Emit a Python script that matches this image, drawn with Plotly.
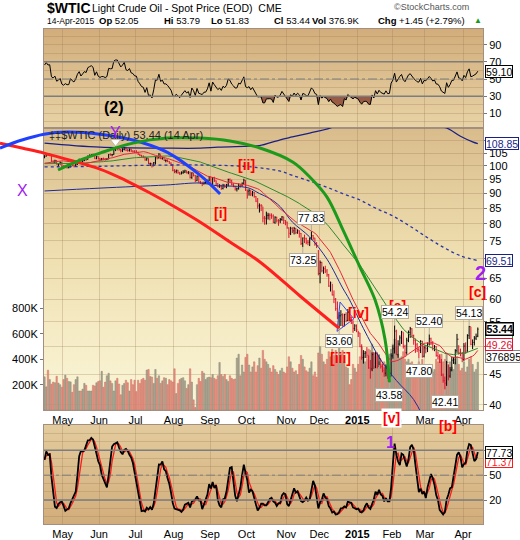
import base64
import numpy as np
import pandas as pd
import plotly.graph_objects as go

W, H = 520, 540
PX_L, PX_R = 44, 483
RSI_T, RSI_B = 29, 128
MAIN_T, MAIN_B = 128, 410
STO_T, STO_B = 425, 524
FONT = "Liberation Sans, Arial, sans-serif"

# ---------------- data ----------------
holidays = ['2014-04-18', '2014-05-26', '2014-07-04', '2014-09-01', '2014-11-27',
            '2014-12-25', '2015-01-01', '2015-01-19', '2015-02-16', '2015-04-03']

close_px = [
    103.75, 104.76, 104.30, 104.38, 101.75, 101.44, 101.94, 100.60, 100.84, 101.28, 99.74,
    99.42, 99.76, 99.48, 99.50, 100.77, 100.26, 99.99, 100.59, 101.70, 102.37, 101.50, 102.02, 102.61, 102.44, 103.77, 104.07, 104.35, 104.11, 102.72, 103.58, 102.71,
    102.47, 102.66, 102.64, 102.48, 102.66, 104.41, 104.35, 104.40, 106.53, 106.91, 106.90, 106.36, 105.97, 106.43, 107.26, 106.17, 106.03, 106.50, 105.84, 105.74, 105.37,
    105.34, 104.48, 104.06, 103.53, 103.40, 102.29, 102.93, 100.83, 100.91, 99.96, 101.20, 103.19, 103.13, 104.59, 102.81, 103.12, 102.07, 102.09, 101.67, 100.97, 100.27, 98.23,
    97.86, 98.29, 97.38, 96.92, 97.34, 97.65, 98.08, 97.37, 97.59, 95.58, 97.35, 96.41, 94.48, 96.07, 93.96, 93.65, 93.35, 93.86, 93.88, 94.55, 95.96,
    92.88, 95.54, 94.45, 93.29, 92.29, 92.75, 91.67, 92.83, 92.27, 92.92, 94.88, 94.42, 93.07, 92.41, 91.52, 91.56, 92.80, 92.53, 93.54, 94.57, 91.16,
    90.73, 91.01, 89.74, 90.34, 88.85, 87.31, 85.77, 85.82, 85.74, 81.84, 81.78, 82.70, 82.75, 82.71, 82.49, 80.52, 82.09, 81.01, 81.00, 81.42, 82.20, 81.12, 80.54,
    78.78, 77.19, 78.68, 77.91, 78.65, 77.40, 77.94, 77.18, 74.21, 75.82, 75.64, 74.61, 74.58, 75.58, 76.51, 75.78, 74.09, 73.69, 66.15,
    69.00, 66.88, 67.38, 66.81, 65.84, 63.05, 63.82, 60.94, 59.95, 57.81, 55.93, 56.26, 56.47, 54.11, 56.52, 55.26, 57.12, 55.84, 54.73, 53.61, 54.12, 53.27,
    52.69, 50.04, 47.93, 48.65, 48.79, 48.36, 46.07, 45.89, 48.48, 46.25, 48.69, 46.39, 47.78, 46.31, 45.59, 45.15, 46.23, 44.45, 44.53, 48.24,
    49.57, 53.05, 48.45, 50.48, 51.69, 52.86, 50.02, 48.84, 51.21, 52.78, 53.53, 52.14, 51.16, 50.34, 49.45, 49.28, 50.99, 48.17, 49.76,
    49.59, 50.52, 51.53, 50.76, 49.61, 50.00, 48.29, 48.17, 47.05, 44.84, 43.88, 43.46, 47.05, 44.66, 45.72, 47.45, 47.51, 49.21, 51.43, 48.87, 48.68, 47.60,
    50.09, 49.14, 52.14, 53.98, 50.42, 50.79, 51.64, 51.99, 53.44]

high_px = [
    104.13, 104.99, 104.97, 104.86, 104.40, 102.15, 102.36, 102.22, 101.05, 101.70, 101.50,
    100.20, 100.21, 100.10, 100.20, 101.04, 101.06, 100.57, 100.96, 101.97, 102.78, 102.40, 102.33, 102.90, 102.85, 104.05, 104.45, 104.50, 104.77, 104.20, 103.80, 103.72,
    103.11, 103.06, 103.20, 103.02, 103.00, 104.56, 104.87, 104.59, 106.72, 107.68, 107.39, 107.20, 106.66, 106.98, 107.50, 107.36, 106.70, 106.86, 106.77, 106.10, 106.14,
    106.18, 105.53, 104.70, 104.32, 104.09, 103.65, 103.28, 102.89, 101.23, 100.97, 101.47, 103.69, 103.80, 104.98, 104.45, 103.49, 103.20, 102.50, 102.50, 101.81, 101.38, 100.50,
    98.70, 98.55, 98.46, 97.70, 97.88, 98.32, 98.50, 98.20, 97.99, 97.75, 97.54, 97.26, 96.50, 96.36, 96.14, 94.40, 94.07, 94.10, 94.36, 94.80, 96.11,
    95.82, 95.80, 95.87, 94.58, 93.60, 93.17, 92.98, 93.30, 93.20, 93.30, 95.19, 95.30, 94.82, 93.58, 92.50, 92.00, 93.48, 93.20, 93.79, 95.15, 94.64,
    91.30, 91.46, 91.05, 90.81, 90.50, 89.05, 88.38, 86.57, 86.35, 85.50, 82.50, 83.88, 83.49, 83.35, 83.31, 82.98, 82.40, 82.25, 81.50, 81.85, 82.48, 82.25, 81.20,
    80.73, 78.98, 79.14, 79.00, 79.11, 78.80, 78.39, 78.08, 77.29, 75.96, 76.80, 75.91, 75.25, 75.97, 77.83, 76.67, 75.90, 74.65, 72.40,
    69.55, 69.22, 67.96, 68.16, 67.31, 66.06, 64.15, 63.57, 62.00, 60.23, 59.43, 57.07, 57.49, 56.78, 56.70, 57.02, 57.74, 57.46, 56.07, 55.28, 54.48, 54.43,
    53.08, 52.70, 50.44, 49.31, 49.16, 49.90, 48.26, 47.49, 48.90, 48.97, 49.03, 48.89, 48.50, 47.70, 46.86, 46.18, 46.64, 46.45, 45.60, 48.72,
    50.25, 54.24, 53.33, 51.23, 52.19, 53.10, 52.81, 50.34, 51.71, 53.17, 53.91, 53.65, 52.34, 51.57, 50.70, 49.88, 51.24, 51.12, 50.19,
    50.25, 50.80, 52.40, 51.73, 51.05, 50.28, 50.07, 49.09, 48.55, 47.67, 45.08, 44.57, 47.32, 46.63, 46.22, 48.10, 48.06, 49.50, 52.48, 50.26, 49.60, 48.98,
    50.67, 50.81, 52.42, 54.13, 53.93, 51.38, 52.05, 52.55, 53.79]

low_px = [
    102.93, 103.60, 103.88, 103.80, 101.50, 101.20, 101.05, 100.50, 99.75, 100.40, 99.50,
    99.10, 99.20, 98.92, 99.00, 99.46, 99.80, 99.40, 99.54, 100.35, 101.50, 101.06, 101.30, 101.80, 101.90, 102.40, 103.40, 103.78, 103.80, 102.65, 102.60, 102.41,
    102.05, 102.09, 102.10, 101.95, 102.18, 102.58, 103.95, 103.70, 104.30, 105.80, 106.10, 106.00, 105.30, 105.40, 106.10, 105.80, 105.55, 105.60, 105.47, 105.20, 105.06,
    104.90, 104.22, 103.72, 103.37, 102.98, 101.97, 101.98, 100.63, 99.92, 99.34, 99.88, 100.50, 102.50, 102.80, 102.56, 102.40, 101.90, 101.35, 101.41, 100.80, 99.94, 97.94,
    97.20, 97.15, 97.01, 96.60, 96.80, 97.01, 97.27, 97.10, 96.82, 95.22, 95.13, 96.00, 93.94, 94.29, 93.67, 93.26, 92.50, 93.05, 93.20, 93.40, 94.28,
    92.50, 92.75, 94.00, 92.50, 92.07, 91.90, 91.18, 91.35, 91.90, 91.76, 92.47, 93.97, 92.78, 92.11, 90.94, 90.62, 91.30, 92.01, 92.40, 93.10, 90.81,
    88.18, 89.18, 89.05, 88.95, 88.50, 86.99, 84.85, 83.59, 84.07, 80.50, 79.78, 79.84, 81.38, 81.16, 81.60, 80.24, 80.06, 80.42, 79.44, 80.24, 80.98, 80.00, 79.60,
    78.60, 75.84, 76.67, 77.26, 76.86, 76.95, 77.05, 75.92, 73.80, 73.25, 74.35, 74.03, 73.74, 73.50, 75.30, 75.28, 73.60, 72.94, 65.70,
    63.72, 66.46, 66.08, 66.26, 65.34, 62.85, 61.75, 60.80, 59.06, 57.34, 55.52, 53.60, 54.10, 53.95, 54.05, 54.89, 55.10, 55.20, 54.51, 52.70, 53.07, 52.83,
    51.86, 49.87, 47.55, 46.83, 47.84, 47.75, 45.92, 44.20, 45.49, 45.87, 46.02, 45.98, 46.55, 45.96, 45.28, 44.53, 44.60, 44.18, 43.58, 44.62,
    47.73, 48.68, 48.42, 47.88, 50.15, 50.50, 49.61, 48.12, 48.45, 50.84, 51.70, 51.73, 50.35, 48.81, 48.95, 47.80, 48.76, 47.90, 47.96,
    48.72, 48.95, 50.20, 50.30, 49.27, 49.12, 48.10, 47.58, 46.95, 44.65, 43.52, 42.41, 43.00, 43.92, 44.35, 45.46, 46.78, 46.70, 48.80, 48.48, 48.15, 47.10,
    47.33, 48.64, 49.00, 51.46, 50.24, 49.51, 50.20, 51.26, 51.83]

last_open = 52.05

volume_k = [
    262, 183, 314, 240, 204, 220, 215, 266, 213, 200, 180,
    240, 275, 250, 225, 222, 140, 200, 240, 262, 150, 150, 165, 210, 195, 150, 150, 150, 195, 190, 215, 225,
    230, 305, 180, 220, 270, 290, 230, 210, 150, 230, 250, 205, 120, 195, 210, 235, 215, 150, 240, 200, 235,
    145, 235, 210, 240, 250, 235, 315, 320, 265, 260, 210, 320, 250, 270, 210, 230, 255, 250, 200, 240, 230, 220,
    325, 130, 210, 240, 250, 255, 230, 170, 200, 325, 220, 80, 20, 200, 250, 225, 305, 290, 240, 255, 260,
    255, 280, 250, 240, 270, 375, 280, 265, 280, 240, 225, 270, 250, 240, 245, 410, 440, 270, 355, 300, 415,
    440, 355, 300, 340, 380, 300, 350, 410, 330, 470, 400, 380, 360, 330, 300, 350, 320, 300, 280, 310, 330, 300, 290,
    340, 420, 380, 330, 300, 310, 280, 360, 430, 400, 340, 310, 300, 330, 380, 270, 300, 260, 450,
    500, 440, 380, 360, 400, 460, 420, 480, 430, 470, 420, 520, 440, 470, 380, 340, 330, 200, 240, 360, 330, 300,
    360, 420, 500, 430, 380, 400, 480, 470, 520, 450, 420, 440, 380, 360, 350, 380, 360, 420, 440, 480,
    520, 560, 500, 440, 410, 420, 460, 400, 380, 400, 370, 380, 350, 330, 340, 380, 360, 400, 350,
    320, 330, 360, 310, 300, 320, 400, 380, 420, 440, 380, 400, 450, 360, 380, 340, 320, 380, 420, 360, 310, 330,
    380, 300, 340, 400, 420, 360, 300, 320, 376.895]

# moving-average values before the window fills
ma20_head = [101.0, 101.1, 101.2, 101.4, 101.5, 101.6, 101.7, 101.8, 101.8, 101.9,
             101.9, 101.9, 101.8, 101.7, 101.6, 101.5, 101.4, 101.35, 101.3]
ma50_head = [100.8, 100.8, 100.9, 100.9, 101.0, 101.0, 101.0, 101.0, 101.0, 101.0, 101.0,
             101.0, 101.0, 100.9, 100.9, 100.9, 100.9, 100.9, 100.9, 101.0, 101.0,
             101.0, 101.0, 101.1, 101.1, 101.2, 101.3, 101.3, 101.4, 101.4, 101.5, 101.5,
             101.5, 101.6, 101.6, 101.7, 101.7, 101.8, 101.9, 101.9, 102.0, 102.1,
             102.2, 102.3, 102.4, 102.5, 102.6, 102.7, 102.8]
rsi_seed_gain, rsi_seed_loss = 0.55, 0.28

# Bollinger(200) readings: (bar index, value)
bb_mid_idx = [0, 30, 60, 90, 115, 128, 136, 143, 153, 163, 172, 182, 191, 201, 211, 221, 230, 240, 250]
bb_mid_val = [99.6, 99.8, 100.2, 100.3, 99.8, 98.9, 98.0, 96.4, 94.3, 92.1, 89.9, 87.7, 85.0, 82.5, 79.3, 75.9, 73.2, 70.8, 69.51]
bb_up_idx = [0, 32, 70, 90, 100, 118, 124, 136, 143, 153, 165, 180, 195, 212, 225, 232, 240, 247, 250]
bb_up_val = [109.1, 107.4, 107.0, 107.0, 107.4, 107.8, 108.0, 110.5, 111.7, 113.4, 115.6, 121.0, 122.0, 118.5, 116.5, 115.6, 112.0, 109.6, 108.85]
bb_lo_idx = [0, 32, 70, 90, 100, 109, 118, 124, 130, 136, 143, 153, 163, 172, 176, 184, 194, 203, 213, 222, 235, 250]
bb_lo_val = [90.8, 91.8, 92.9, 93.6, 92.6, 92.5, 91.8, 89.9, 88.2, 85.5, 80.6, 76.1, 69.9, 62.6, 59.8, 53.6, 47.5, 43.9, 40.8, 36.5, 32.5, 30.2]

# hand-drawn arcs (bar index, price)
red_arc_idx = [-25.7, -13.0, -0.3, 14.7, 32.0, 46.4, 60.9, 75.3, 89.7, 107.0, 124.3, 147.4, 170]
red_arc_val = [109.1, 107.05, 105.0, 102.2, 98.75, 94.69, 90.08, 85.37, 80.6, 74.65, 69.16, 60.69, 53.6]
blue_arc_idx = [-25.7, -13.0, -0.3, 13.0, 32.0, 51.0, 70.6, 89.7, 101.3]
blue_arc_val = [107.05, 110.4, 112.9, 113.8, 112.9, 110.4, 105.4, 96.5, 89.75]
green_arc_idx = [7.8, 20.5, 32.0, 51.0, 70.7, 89.7, 107.0, 124.3, 143.4, 153.2, 163.0, 172.2, 182.0, 190.7, 196.5, 199]
green_arc_val = [98.4, 102.2, 105.0, 109.1, 111.2, 111.2, 110.0, 107.05, 101.4, 95.7, 88.7, 78.2, 67.8, 59.8, 51.3, 43.6]
tri_idx = [170.5, 178.5, 168.8]
tri_val = [59.3, 55.6, 53.0]

swing_idx = [154, 149, 170, 202, 222, 216, 199, 231, 245]
swing_val = [77.83, 73.25, 53.60, 54.24, 52.40, 47.80, 43.58, 42.41, 54.13]
swing_side = ['hi', 'lo', 'lo', 'hi', 'hi', 'lo', 'lo', 'lo', 'hi']

price_ticks = [40, 45, 50, 55, 60, 65, 70, 75, 80, 85, 90, 95, 100, 105, 110]
vol_ticks = [200000, 400000, 600000, 800000]
vol_tick_text = ['200K', '400K', '600K', '800K']

# ---------------- derived ----------------
dates = pd.bdate_range('2014-04-15', '2015-04-14')
dates = dates[~dates.isin(pd.to_datetime(holidays))]
n = len(dates)
idx = np.arange(n)
close = np.array(close_px)
high = np.array(high_px)
low = np.array(low_px)
open_ = np.r_[close[0], close[:-1]]
open_[-1] = last_open
volume = np.array(volume_k) * 1000.0

up = np.r_[True, close[1:] >= close[:-1]]

# RSI(14), Wilder
ag, al = rsi_seed_gain, rsi_seed_loss
rsi = [100 - 100 / (1 + ag / al)]
for d in np.diff(close):
    ag = (ag * 13 + max(d, 0)) / 14
    al = (al * 13 + max(-d, 0)) / 14
    rsi.append(100 - 100 / (1 + ag / al))
rsi = np.array(rsi)

# Slow stochastic (14,3)
sc = pd.Series(close)
hh = pd.Series(high).rolling(14, min_periods=1).max()
ll = pd.Series(low).rolling(14, min_periods=1).min()
fastk = 100 * (sc - ll) / (hh - ll)
slowk = fastk.rolling(3, min_periods=1).mean().to_numpy()
slowd = pd.Series(slowk).rolling(3, min_periods=1).mean().to_numpy()

ma20 = sc.rolling(20).mean().to_numpy()
ma20[:19] = ma20_head
ma50 = sc.rolling(50).mean().to_numpy()
ma50[:49] = ma50_head

# month ticks
month_first = []
for i in range(1, n):
    if dates[i].month != dates[i - 1].month:
        month_first.append(i)
tickvals = [i - 0.5 for i in month_first]
ticktext = []
for i in month_first:
    d = dates[i]
    ticktext.append('<b>2015</b>' if (d.month == 1) else d.strftime('%b'))

XR = [-0.3, 253.0]
ppu = (PX_R - PX_L) / (XR[1] - XR[0])
XR_FULL = [XR[0] - PX_L / ppu, XR[1] + (W - PX_R) / ppu]
PR = [np.log10(39.2), np.log10(115.6)]


def dom_x():
    return [PX_L / W, PX_R / W]


def dom_y(t, b):
    return [1 - b / H, 1 - t / H]


def grad(stops):
    st = ''.join(f'<stop offset="{o}" stop-color="{c}"/>' for o, c in stops)
    svg = ('<svg xmlns="http://www.w3.org/2000/svg" width="10" height="100" viewBox="0 0 10 100" '
           'preserveAspectRatio="none"><defs><linearGradient id="g" x1="0" y1="0" x2="0" y2="1">'
           + st + '</linearGradient></defs><rect width="10" height="100" fill="url(#g)"/></svg>')
    return 'data:image/svg+xml;base64,' + base64.b64encode(svg.encode()).decode()


fig = go.Figure()

# ---- RSI panel ----
fig.add_trace(go.Scatter(x=idx, y=[30] * n, mode='lines', line=dict(width=0), xaxis='x', yaxis='y', hoverinfo='skip'))
fig.add_trace(go.Scatter(x=idx, y=np.minimum(rsi, 30), mode='lines', line=dict(width=0), fill='tonexty',
                         fillcolor='#9a5b45', xaxis='x', yaxis='y', hoverinfo='skip'))
fig.add_trace(go.Scatter(x=idx, y=rsi, mode='lines', line=dict(color='black', width=1), xaxis='x', yaxis='y'))

# ---- Main panel: volume (base), price (overlay) ----
vcol = np.where(up, '#a8a38f', '#e39585')
vline = np.where(up, '#8f8a78', '#cf6f60')
fig.add_trace(go.Bar(x=idx, y=volume, marker=dict(color=vcol, line=dict(color=vline, width=0.5)),
                     width=0.8, xaxis='x2', yaxis='y2'))

fig.add_trace(go.Scatter(x=bb_mid_idx, y=bb_mid_val, mode='lines', line=dict(color='#2b35a8', width=1.3, dash='dot', shape='spline'),
                         xaxis='x2', yaxis='y3'))
fig.add_trace(go.Scatter(x=bb_up_idx, y=bb_up_val, mode='lines', line=dict(color='#1a1f86', width=1.3, shape='spline'),
                         xaxis='x2', yaxis='y3'))
fig.add_trace(go.Scatter(x=bb_lo_idx, y=bb_lo_val, mode='lines', line=dict(color='#1f2a9a', width=1, shape='spline'),
                         xaxis='x2', yaxis='y3'))
fig.add_trace(go.Scatter(x=idx, y=ma50, mode='lines', line=dict(color='#2d8a2d', width=1), xaxis='x2', yaxis='y3'))
fig.add_trace(go.Scatter(x=idx, y=ma20, mode='lines', line=dict(color='#e8283c', width=1), xaxis='x2', yaxis='y3'))

fig.add_trace(go.Ohlc(x=idx, open=open_, high=high, low=low, close=close, tickwidth=0.35,
                      increasing=dict(line=dict(color='black', width=1)),
                      decreasing=dict(line=dict(color='#e0102f', width=1)),
                      xaxis='x2', yaxis='y3'))

fig.add_trace(go.Scatter(x=tri_idx + [tri_idx[0]], y=tri_val + [tri_val[0]], mode='lines',
                         line=dict(color='#3344ee', width=1), xaxis='x2', yaxis='y3'))
pk = int(np.argmax(high))
fig.add_trace(go.Scatter(x=[pk], y=[high[pk] * 1.018], mode='markers',
                         marker=dict(symbol='triangle-down', size=9, color='white', line=dict(color='#bdb5a5', width=1)),
                         xaxis='x2', yaxis='y3'))

# ---- Stochastic panel ----
fig.add_trace(go.Scatter(x=idx, y=slowd, mode='lines', line=dict(color='#ff1a1a', width=1.3), xaxis='x3', yaxis='y4'))
fig.add_trace(go.Scatter(x=idx, y=slowk, mode='lines', line=dict(color='black', width=1.8), xaxis='x3', yaxis='y4'))

# ---- Arcs (full width overlay) ----
fig.add_trace(go.Scatter(x=red_arc_idx, y=red_arc_val, mode='lines', line=dict(color='#ff1f1f', width=3, shape='spline'),
                         xaxis='x4', yaxis='y5'))
fig.add_trace(go.Scatter(x=blue_arc_idx, y=blue_arc_val, mode='lines', line=dict(color='#1f40ff', width=3, shape='spline'),
                         xaxis='x4', yaxis='y5'))
fig.add_trace(go.Scatter(x=green_arc_idx, y=green_arc_val, mode='lines', line=dict(color='#1c9a1c', width=3, shape='spline'),
                         xaxis='x4', yaxis='y5'))

# ---------------- layout ----------------
grid_c = 'rgba(150,118,80,0.28)'
border_c = '#a28f80'
tickfont = dict(family=FONT, size=11, color='black')

xcommon = dict(range=XR, domain=dom_x(), tickvals=tickvals, ticktext=ticktext, showgrid=True, gridcolor=grid_c,
               gridwidth=1, zeroline=False, showline=True, mirror=True, linecolor=border_c, ticks='',
               tickfont=tickfont, automargin=False, fixedrange=True)

layout = dict(
    width=W, height=H, template='none', showlegend=False,
    margin=dict(l=0, r=0, t=0, b=0, pad=0),
    paper_bgcolor='white', plot_bgcolor='rgba(0,0,0,0)',
    font=dict(family=FONT, size=11, color='black'),
    xaxis=dict(xcommon, anchor='y', showticklabels=False),
    xaxis2=dict(xcommon, anchor='y2', showticklabels=True, rangeslider=dict(visible=False)),
    xaxis3=dict(xcommon, anchor='y4', showticklabels=True),
    xaxis4=dict(range=XR_FULL, domain=[0, 1], anchor='y5', visible=False, fixedrange=True),
    yaxis=dict(domain=dom_y(RSI_T, RSI_B), range=[-7.1, 108.3], anchor='x', side='right',
               tickvals=[10, 30, 50, 70, 90], showgrid=True, gridcolor=grid_c, zeroline=False,
               minor=dict(tickvals=[0, 20, 40, 60, 80, 100], showgrid=True, gridcolor=grid_c),
               showline=True, mirror=True, linecolor=border_c, ticks='outside', ticklen=3, tickcolor='#777',
               tickfont=tickfont, automargin=False, fixedrange=True),
    yaxis2=dict(domain=dom_y(MAIN_T, MAIN_B), range=[0, 2.225e6], anchor='x2', side='left',
                tickvals=vol_ticks, ticktext=vol_tick_text, showgrid=False, zeroline=False,
                showline=True, mirror=True, linecolor=border_c, ticks='outside', ticklen=3, tickcolor='#777',
                tickfont=tickfont, automargin=False, fixedrange=True),
    yaxis3=dict(overlaying='y2', anchor='x2', side='right', type='log', range=PR,
                tickvals=price_ticks, ticktext=[str(v) for v in price_ticks], showgrid=True, gridcolor=grid_c,
                zeroline=False, showline=False, ticks='outside', ticklen=3, tickcolor='#777',
                tickfont=tickfont, automargin=False, fixedrange=True),
    yaxis4=dict(domain=dom_y(STO_T, STO_B), range=[-8.8, 110.4], anchor='x3', side='right',
                tickvals=[20, 50, 80], showgrid=True, gridcolor=grid_c, zeroline=False,
                minor=dict(tickvals=[0, 10, 30, 40, 60, 70, 90, 100], showgrid=True, gridcolor=grid_c),
                showline=True, mirror=True, linecolor=border_c, ticks='outside', ticklen=3, tickcolor='#777',
                tickfont=tickfont, automargin=False, fixedrange=True),
    yaxis5=dict(domain=dom_y(MAIN_T, MAIN_B), type='log', range=PR, anchor='x4', visible=False, fixedrange=True),
)
fig.update_layout(**layout)

# backgrounds
imgs = []
for (t, b, stops) in [
    (RSI_T, RSI_B, [(0, '#d2ad7b'), (1, '#e8d3a6')]),
    (MAIN_T, MAIN_B, [(0, '#d9bc8c'), (0.45, '#efdfb0'), (1, '#fbf7da')]),
    (STO_T, STO_B, [(0, '#e3cb9d'), (1, '#d2ad7b')]),
]:
    imgs.append(dict(source=grad(stops), xref='paper', yref='paper', x=PX_L / W, y=1 - t / H,
                     sizex=(PX_R - PX_L) / W, sizey=(b - t) / H, xanchor='left', yanchor='top',
                     sizing='stretch', layer='below'))
fig.update_layout(images=imgs)

# reference lines
shapes = []
for yref, lv in [('y', 70), ('y', 30), ('y4', 80), ('y4', 20)]:
    xr = 'x domain' if yref == 'y' else 'x3 domain'
    shapes.append(dict(type='line', xref=xr, yref=yref, x0=0, x1=1, y0=lv, y1=lv, line=dict(color='#7d7d7d', width=1.5)))
for yref in ['y', 'y4']:
    xr = 'x domain' if yref == 'y' else 'x3 domain'
    shapes.append(dict(type='line', xref=xr, yref=yref, x0=0, x1=1, y0=50, y1=50,
                       line=dict(color='#7d7d7d', width=1, dash='dashdot')))
fig.update_layout(shapes=shapes)

ann = []


def ptext(px, py, text, size=11, color='black', anchor='center', bold=False, bg=None, family=FONT):
    d = dict(x=px / W, y=1 - py / H, xref='paper', yref='paper', text=(f'<b>{text}</b>' if bold else text),
             showarrow=False, xanchor=anchor, yanchor='middle', font=dict(size=size, color=color, family=family))
    if bg:
        d['bgcolor'] = bg
    ann.append(d)


# header
ptext(45, 8, '<b>$WTIC</b>', size=14, anchor='left')
ptext(90, 8, 'Light Crude Oil - Spot Price (EOD)  CME', size=10.5, anchor='left')
ptext(392, 7, '©StockCharts.com', size=9, color='#555', anchor='left')
ptext(45, 21, '14-Apr-2015', size=8.5, anchor='left')
ptext(97, 21, '<b>Op</b> 52.05', size=9.5, anchor='left')
ptext(162, 21, '<b>Hi</b> 53.79', size=9.5, anchor='left')
ptext(209, 21, '<b>Lo</b> 51.83', size=9.5, anchor='left')
ptext(272, 21, '<b>Cl</b> 53.44', size=9.5, anchor='left')
ptext(310, 21, '<b>Vol</b> 376.9K', size=9.5, anchor='left')
ptext(376, 21, '<b>Chg</b> +1.45 (+2.79%)', size=9.5, anchor='left')
ptext(472, 21, '▲', size=8, color='#1a9a1a', anchor='left')

# legend text
ptext(47, 135, '‡‡$WTIC (Daily) 53.44 (14 Apr)', size=11, color='#222', anchor='left')

# wave labels
ptext(114, 108, '(2)', size=16, bold=True)
ptext(115, 133, 'Y', size=16, color='#a020f0')
ptext(22, 190, 'X', size=16, color='#a020f0')
ptext(480, 273, '2', size=20, color='#a020f0', bold=True)
ptext(390, 442, '1', size=16, color='#a020f0', bold=True)
RED = '#ff0000'
ptext(220, 213, '[i]', size=14, color=RED, bold=True)
ptext(246, 165, '[ii]', size=14, color=RED, bold=True)
ptext(340, 358, '[iii]', size=14, color=RED, bold=True)
ptext(358, 313, '[iv]', size=14, color=RED, bold=True)
ptext(397, 306, '[a]', size=14, color=RED, bold=True)
ptext(391, 418, '[v]', size=14, color=RED, bold=True, bg='white')
ptext(448, 426, '[b]', size=14, color=RED, bold=True)
ptext(477, 292, '[c]', size=14, color=RED, bold=True)

# swing labels
for i, v, s in zip(swing_idx, swing_val, swing_side):
    ann.append(dict(x=i, y=np.log10(v), xref='x2', yref='y3', text=f'{v:.2f}', showarrow=True,
                    arrowhead=0, arrowwidth=1, arrowcolor='#b5ab9b', ax=0, ay=(-13 if s == 'hi' else 13),
                    font=dict(size=10.5, color='black', family=FONT), bgcolor='white',
                    bordercolor='#b5ab9b', borderwidth=1, borderpad=0))


# right-side value boxes
def rbox(text, yref, yval, color, border, yshift=0, bold=False, bw=1):
    ann.append(dict(x=(PX_R + 2) / W, xref='paper', y=yval, yref=yref, xanchor='left', yanchor='middle',
                    text=(f'<b>{text}</b>' if bold else text), showarrow=False, yshift=yshift,
                    font=dict(size=10.5, color=color, family=FONT), bgcolor='white', bordercolor=border,
                    borderwidth=bw, borderpad=0, height=11))


rbox(f'{rsi[-1]:.2f}', 'y', rsi[-1], 'black', 'black')
rbox('108.85', 'y3', np.log10(bb_up_val[-1]), '#1a1f86', '#1a1f86')
rbox('69.51', 'y3', np.log10(bb_mid_val[-1]), '#1a1f86', '#1a1f86')
rbox(f'{ma50[-1]:.2f}', 'y3', np.log10(ma50[-1]), '#1c7a1c', '#1c9a1c', yshift=7)
rbox(f'{volume[-1]:.0f}', 'y2', volume[-1], 'black', '#888888', yshift=6)
rbox(f'{ma20[-1]:.2f}', 'y3', np.log10(ma20[-1]), '#e0102f', '#e0102f', yshift=6)
rbox(f'{close[-1]:.2f}', 'y3', np.log10(close[-1]), 'black', 'black', bold=True, bw=1.5)
rbox(f'{slowd[-1]:.2f}', 'y4', slowd[-1], '#ff1a1a', '#ff1a1a', yshift=-4)
rbox(f'{slowk[-1]:.2f}', 'y4', slowk[-1], 'black', 'black')

fig.update_layout(annotations=ann)
fig.write_html('out.html', config={'displayModeBar': False},
               post_script="document.body.style.margin='0px';document.body.style.overflow='hidden';")
